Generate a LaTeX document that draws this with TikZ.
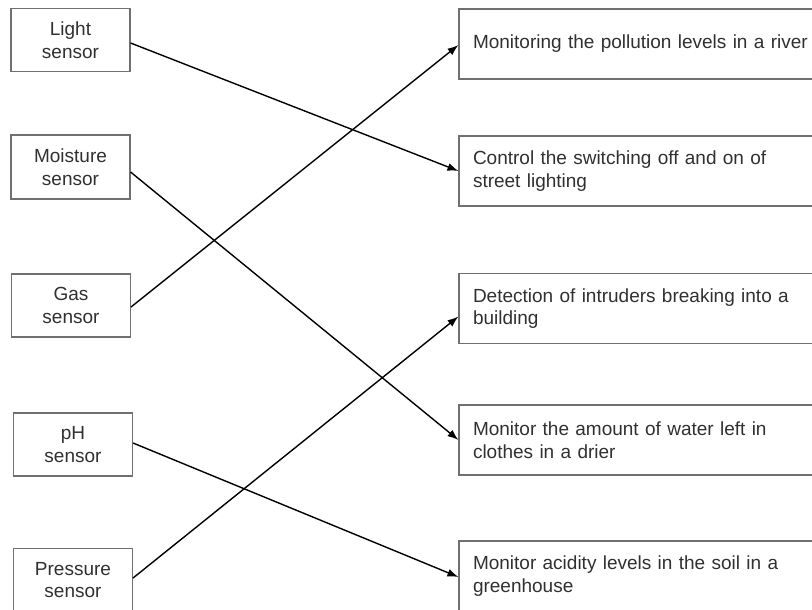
\documentclass[tikz,border=0pt]{standalone}
\usepackage{fontspec}
\setmainfont{Liberation Sans}
\usetikzlibrary{arrows.meta}
\definecolor{boxgray}{HTML}{707070}
\definecolor{textgray}{HTML}{303030}
\begin{document}
\begin{tikzpicture}[x=1pt,y=-1pt,
  box/.style={draw=boxgray, line width=1.1pt, rectangle, inner sep=0pt,
    font=\fontsize{19}{22.5}\selectfont, text=textgray},
  lbox/.style={box, minimum width=119pt, minimum height=63pt, align=center},
  rbox/.style={box, minimum width=368pt, minimum height=70pt, text width=340pt, align=left},
  conn/.style={line width=1.4pt, draw=black, -{Latex[length=11pt,width=8pt]}}]
\useasboundingbox (0,0) rectangle (812,610);
% left boxes
\node[lbox] (light) at (70.5,40) {Light\\sensor};
\node[lbox, minimum height=64pt] (moist) at (70.5,167) {Moisture\\sensor};
\node[lbox] (gas) at (71,305.5) {Gas\\sensor};
\node[lbox] (ph) at (73,444.5) {pH\\sensor};
\node[lbox] (press) at (73,580) {Pressure\\sensor};
% right boxes
\node[rbox] (poll) at (643,44) {Monitoring the pollution levels in a river};
\node[rbox] (street) at (643,171) {Control the switching off and on of\\street lighting};
\node[rbox] (intr) at (643,308.5) {Detection of intruders breaking into a\\building};
\node[rbox] (water) at (643,440) {Monitor the amount of water left in\\clothes in a drier};
\node[rbox] (acid) at (643,576) {Monitor acidity levels in the soil in a\\greenhouse};
% connectors
\draw[conn] ([yshift=-3pt]light.east) -- (street.west);
\draw[conn] ([yshift=-5pt]moist.east) -- (water.west);
\draw[conn] ([yshift=-1.5pt]gas.east) -- ([yshift=-1pt]poll.west);
\draw[conn] ([yshift=1.5pt]ph.east) -- ([yshift=-1pt]acid.west);
\draw[conn] ([yshift=2pt]press.east) -- ([yshift=-8pt]intr.west);
\end{tikzpicture}
\end{document}
